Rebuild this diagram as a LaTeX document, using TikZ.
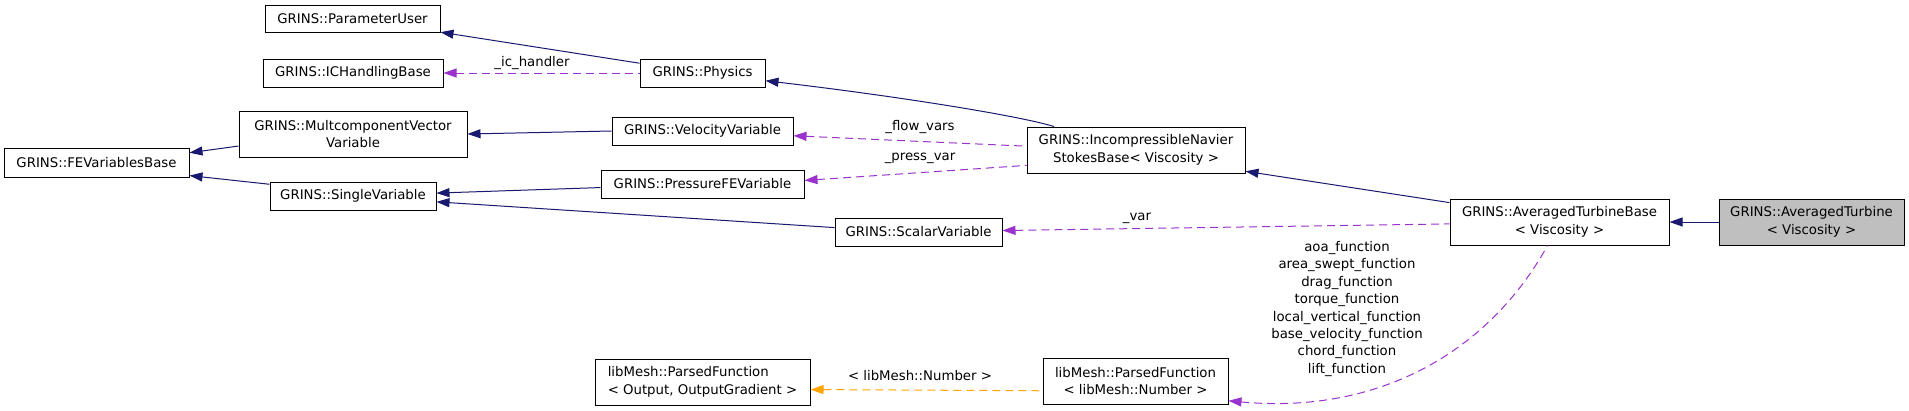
\documentclass[tikz,border=0pt]{standalone}
\usepackage{fontspec}
\setmainfont{DejaVu Sans}
\usetikzlibrary{arrows.meta}
\definecolor{inhblue}{HTML}{191970}
\definecolor{useviolet}{HTML}{9A32CD}
\definecolor{tplorange}{HTML}{FFA500}
\definecolor{curgray}{HTML}{BFBFBF}

\begin{document}
\begin{tikzpicture}[x=1pt,y=-1pt,
    font=\fontsize{13.3}{17.6}\selectfont,
    cls/.style={draw=black,line width=1pt,fill=white,inner sep=0pt,align=center},
    lbl/.style={inner sep=0pt,align=center},
    inh/.style={draw=inhblue,line width=1pt,{Triangle[length=13pt,width=9pt]}-},
    use/.style={draw=useviolet,line width=1pt,dash pattern=on 8pt off 5pt,{Triangle[length=13pt,width=9pt]}-},
    tpl/.style={draw=tplorange,line width=1pt,dash pattern=on 8pt off 5pt,{Triangle[length=13pt,width=9pt]}-}]
            \useasboundingbox[fill=white] (0,0) rectangle (1909,410);

            \node[cls,minimum width=175pt,minimum height=27pt] (pu) at (352.5,18.5) {GRINS::ParameterUser};
            \node[cls,minimum width=180pt,minimum height=28pt] (ich) at (353,73) {GRINS::ICHandlingBase};
            \node[cls,minimum width=125pt,minimum height=28pt] (phys) at (702.5,73) {GRINS::Physics};
            \node[cls,minimum width=228pt,minimum height=46pt] (mcv) at (353,134) {GRINS::MultcomponentVector\\Variable};
            \node[cls,minimum width=185pt,minimum height=29pt] (fevb) at (96.5,162.5) {GRINS::FEVariablesBase};
            \node[cls,minimum width=166pt,minimum height=28pt] (sv) at (353,196) {GRINS::SingleVariable};
            \node[cls,minimum width=181pt,minimum height=28pt] (vel) at (702.5,131) {GRINS::VelocityVariable};
            \node[cls,minimum width=203pt,minimum height=28pt] (pfe) at (702.5,184) {GRINS::PressureFEVariable};
            \node[cls,minimum width=167pt,minimum height=28pt] (sca) at (918.5,232) {GRINS::ScalarVariable};
            \node[cls,minimum width=218pt,minimum height=46pt] (ins) at (1136,150) {GRINS::IncompressibleNavier\\StokesBase< Viscosity >};
            \node[cls,minimum width=219pt,minimum height=46pt] (atb) at (1559.5,222) {GRINS::AveragedTurbineBase\\< Viscosity >};
            \node[cls,fill=curgray,minimum width=185pt,minimum height=46pt] (at) at (1811.5,222) {GRINS::AveragedTurbine\\< Viscosity >};
            \node[cls,align=left,minimum width=215pt,minimum height=46pt] (pfo) at (702.5,382) {libMesh::ParsedFunction\\< Output, OutputGradient >};
            \node[cls,minimum width=185pt,minimum height=46pt] (pfn) at (1135.5,381) {libMesh::ParsedFunction\\< libMesh::Number >};

            \draw[inh] (pu) -- (phys);
            \draw[use] (ich) -- (phys);
            \draw[inh] (phys.-7) .. controls +(120,14) and +(-40,-12) .. (ins.164);
            \draw[use] (vel.-3) -- (ins.178);
            \draw[use] (pfe.2) -- (ins.188);
            \draw[inh] (mcv.east) -- (vel.west);
            \draw[inh] (fevb.6) -- (mcv.186);
            \draw[inh] (fevb.-8) -- (sv.172);
            \draw[inh] (sv.2) -- (pfe.182);
            \draw[inh] (sv.-4) -- (sca.177);
            \draw[inh] (ins.-11) -- (atb.170);
            \draw[use] (sca.1) -- (atb.181);
            \draw[inh] (atb) -- (at);
            \draw[use] (pfn.-12) .. controls +(152,14) and +(-58,105) .. (atb.243);
            \draw[tpl] (pfo.-4) -- (pfn.186);

            \node[lbl] (lic) at (532,63) {\_ic\_handler};
            \node[lbl] (lflow) at (920,127) {\_flow\_vars};
            \node[lbl] (lpress) at (920,158) {\_press\_var};
            \node[lbl] (lvar) at (1137,218) {\_var};
            \node[lbl] (lnum) at (920,376) {< libMesh::Number >};
            \node[lbl,font=\fontsize{13.3}{17.4}\selectfont] (lfun) at (1347,309) {aoa\_function\\area\_swept\_function\\drag\_function\\torque\_function\\local\_vertical\_function\\base\_velocity\_function\\chord\_function\\lift\_function};
\end{tikzpicture}
\end{document}
